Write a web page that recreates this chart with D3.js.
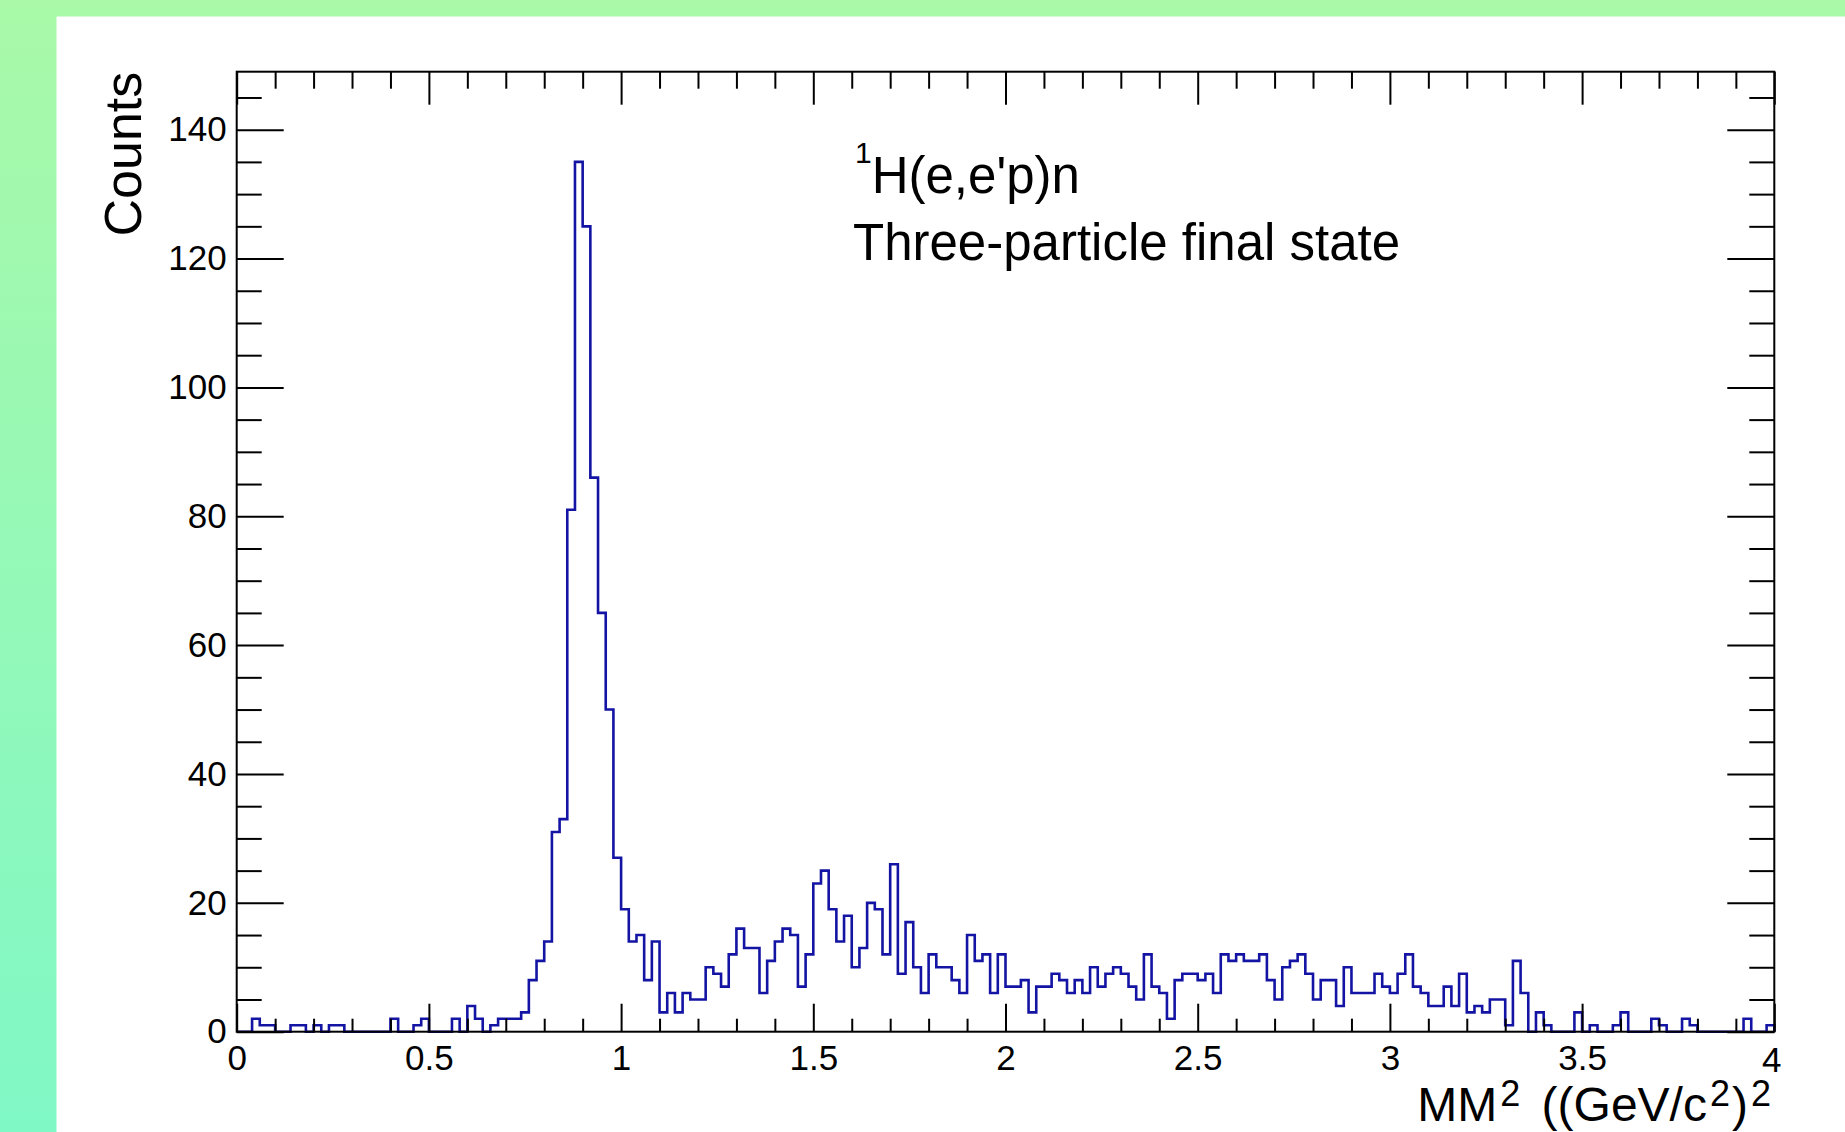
<!DOCTYPE html>
<html>
<head>
<meta charset="utf-8">
<script src="https://cdn.jsdelivr.net/npm/d3@7"></script>
<style>
  body { margin: 0; overflow: hidden; }
  text { font-family: "Liberation Sans", Arial, Helvetica, sans-serif; fill: #000; }
</style>
</head>
<body>
<div id="chart"></div>
<script>
// histogram: 200 bins from 0 to 4 (GeV/c^2)^2
var binLow = 0
var binHigh = 4
var counts = [
  0,0,2,1,1,0,0,1,1,0,
  1,0,1,1,0,0,0,0,0,0,
  2,0,0,1,2,0,0,0,2,0,
  4,2,0,1,2,2,2,3,8,11,
  14,31,33,81,135,125,86,65,50,27,
  19,14,15,8,14,3,6,3,6,5,
  5,10,9,7,12,16,13,13,6,11,
  14,16,15,7,12,23,25,19,14,18,
  10,13,20,19,12,26,9,17,10,6,
  12,10,10,8,6,15,11,12,6,12,
  7,7,8,3,7,7,9,8,6,8,
  6,10,7,9,10,9,7,5,12,7,
  6,2,8,9,9,8,9,6,12,11,
  12,11,11,12,8,5,10,11,12,9,
  5,8,8,4,10,6,6,6,9,7,
  6,9,12,7,6,4,4,7,4,9,
  3,4,3,5,5,1,11,6,0,3,
  1,0,0,0,3,0,1,0,0,1,
  3,0,0,0,2,1,0,0,2,1,
  0,0,0,0,0,0,2,0,0,1
]
var yMax = 149
var xTickValues = [0, 0.5, 1, 1.5, 2, 2.5, 3, 3.5, 4]
var xTickLabels = ["0", "0.5", "1", "1.5", "2", "2.5", "3", "3.5", "4"]
var yTickValues = [0, 20, 40, 60, 80, 100, 120, 140]
var yTickLabels = ["0", "20", "40", "60", "80", "100", "120", "140"]

var W = 1845, H = 1132
// frame edges (note: "top" is reserved on window, so use own names)
var frameL = 236.7, frameR = 1774.3, frameT = 71.7, frameB = 1031.7

var svg = d3.select("#chart").append("svg")
    .attr("width", W)
    .attr("height", H)

var grad = svg.append("defs").append("linearGradient")
    .attr("id", "bg").attr("x1", 0).attr("y1", 0).attr("x2", 0).attr("y2", 1)
grad.append("stop").attr("offset", "0%").attr("stop-color", "#a9f9a8")
grad.append("stop").attr("offset", "100%").attr("stop-color", "#80f8c6")

svg.append("rect").attr("width", W).attr("height", H).attr("fill", "url(#bg)")
svg.append("rect").attr("x", 56.5).attr("y", 16.5)
    .attr("width", W - 56.5).attr("height", H - 16.5).attr("fill", "#fff")

var x = d3.scaleLinear().domain([binLow, binHigh]).range([frameL, frameR])
var y = d3.scaleLinear().domain([0, yMax]).range([frameB, frameT])

// step outline like ROOT "HIST"
var binWidth = (binHigh - binLow) / counts.length
var pts = [[binLow, 0]]
counts.forEach(function(c, i) {
    pts.push([binLow + i * binWidth, c])
})
pts.push([binHigh, counts[counts.length - 1]])
pts.push([binHigh, 0])

var line = d3.line()
    .x(function(d) { return x(d[0]) })
    .y(function(d) { return y(d[1]) })
    .curve(d3.curveStepAfter)

svg.append("path")
    .datum(pts)
    .attr("fill", "none")
    .attr("stroke", "#1414a4")
    .attr("stroke-width", 2.6)
    .attr("d", line)

var xMinor = d3.range(0, 41).map(function(i) { return i / 10 })
    .filter(function(v) { return Math.abs(v * 2 - Math.round(v * 2)) > 1e-6 })
var yMinor = d3.range(0, yMax, 5).filter(function(v) { return v % 20 !== 0 })

function styleAxis(g) {
    g.select(".domain").remove()
    g.selectAll("line").attr("stroke", "#000").attr("stroke-width", 2)
    g.selectAll("text")
        .style("font-family", '"Liberation Sans", Arial, Helvetica, sans-serif')
        .style("font-size", "35px")
        .attr("fill", "#000")
}

// bottom
svg.append("g").attr("transform", "translate(0," + frameB + ")")
    .call(d3.axisBottom(x).tickValues(xTickValues).tickSize(-28).tickPadding(13)
        .tickFormat(function(d, i) { return xTickLabels[i] }))
    .call(styleAxis)
    .call(function(g) {
        // last label sits a bit lower and tucked in
        g.selectAll(".tick").filter(function(d) { return d === 4 })
            .select("text").attr("y", 15).attr("x", -3)
    })
svg.append("g").attr("transform", "translate(0," + frameB + ")")
    .call(d3.axisBottom(x).tickValues(xMinor).tickSize(-13).tickFormat(""))
    .call(styleAxis)
// top
svg.append("g").attr("transform", "translate(0," + frameT + ")")
    .call(d3.axisTop(x).tickValues(xTickValues).tickSize(-33).tickFormat(""))
    .call(styleAxis)
svg.append("g").attr("transform", "translate(0," + frameT + ")")
    .call(d3.axisTop(x).tickValues(xMinor).tickSize(-17).tickFormat(""))
    .call(styleAxis)
// left
svg.append("g").attr("transform", "translate(" + frameL + ",0)")
    .call(d3.axisLeft(y).tickValues(yTickValues).tickSize(-47).tickPadding(10)
        .tickFormat(function(d, i) { return yTickLabels[i] }))
    .call(styleAxis)
svg.append("g").attr("transform", "translate(" + frameL + ",0)")
    .call(d3.axisLeft(y).tickValues(yMinor).tickSize(-25).tickFormat(""))
    .call(styleAxis)
// right
svg.append("g").attr("transform", "translate(" + frameR + ",0)")
    .call(d3.axisRight(y).tickValues(yTickValues).tickSize(-47).tickFormat(""))
    .call(styleAxis)
svg.append("g").attr("transform", "translate(" + frameR + ",0)")
    .call(d3.axisRight(y).tickValues(yMinor).tickSize(-25).tickFormat(""))
    .call(styleAxis)

svg.append("rect")
    .attr("x", frameL).attr("y", frameT)
    .attr("width", frameR - frameL).attr("height", frameB - frameT)
    .attr("fill", "none").attr("stroke", "#000").attr("stroke-width", 2)

// axis titles
var xt = svg.append("text")
    .attr("x", 1771).attr("y", 1121)
    .attr("text-anchor", "end")
    .style("font-size", "48px")
xt.append("tspan").text("MM")
xt.append("tspan").attr("dx", 3).attr("dy", -15).style("font-size", "36px").text("2")
xt.append("tspan").attr("dx", 8).attr("dy", 15).text(" ((GeV/c")
xt.append("tspan").attr("dx", 3).attr("dy", -15).style("font-size", "36px").text("2")
xt.append("tspan").attr("dx", 2).attr("dy", 15).text(")")
xt.append("tspan").attr("dx", 3).attr("dy", -15).style("font-size", "36px").text("2")

svg.append("text")
    .attr("transform", "translate(141," + frameT + ") rotate(-90)")
    .attr("text-anchor", "end")
    .style("font-size", "52px")
    .text("Counts")

// annotation
var note = svg.append("text")
    .attr("x", 855).attr("y", 193)
    .style("font-size", "51px")
note.append("tspan").attr("dy", -30).style("font-size", "30px").text("1")
note.append("tspan").attr("dy", 30).text("H(e,e'p)n")

svg.append("text")
    .attr("x", 853).attr("y", 260)
    .style("font-size", "51px")
    .text("Three-particle final state")
</script>
</body>
</html>
